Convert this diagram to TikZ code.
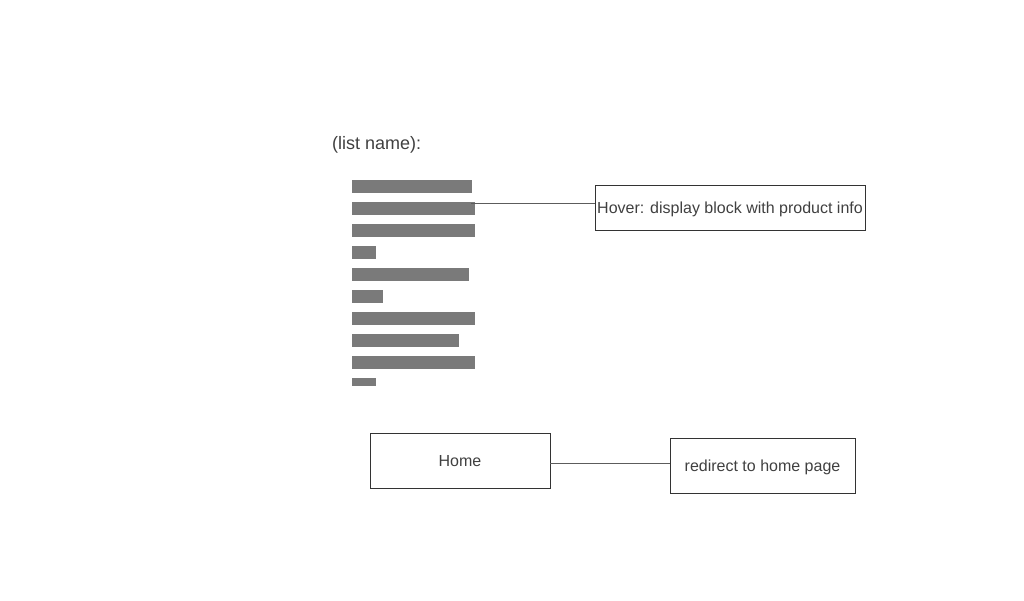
\documentclass[tikz,border=0pt]{standalone}
\usepackage{fontspec}
\setmainfont{Liberation Sans}
\usepackage{tikz}
\usetikzlibrary{positioning}

\definecolor{inkgray}{HTML}{404040}
\definecolor{bargray}{HTML}{7A7A7A}
\definecolor{linegray}{HTML}{333333}

\begin{document}
\begin{tikzpicture}[x=1pt,y=-1pt,auto,
    bar/.style={fill=bargray,inner sep=0pt,outer sep=0pt,minimum height=13pt,anchor=north west},
    infobox/.style={draw=linegray,line width=0.8pt,text=inkgray,inner sep=0pt,text depth=0pt,
        font=\fontsize{16}{19}\selectfont},
    wire/.style={draw=linegray!80,line width=0.8pt}]
			\useasboundingbox (0,0) rectangle (1024,600);
			\node[anchor=west,text=inkgray,inner sep=0pt,font=\fontsize{18}{21}\selectfont] (title) at (332,144.5) {(list name):};
			\node[bar,minimum width=120pt] (b1) at (352,180) {};
			\node[bar,minimum width=123pt] (b2) [below=9pt of b1.south west,anchor=north west] {};
			\node[bar,minimum width=123pt] (b3) [below=9pt of b2.south west,anchor=north west] {};
			\node[bar,minimum width=24pt]  (b4) [below=9pt of b3.south west,anchor=north west] {};
			\node[bar,minimum width=117pt] (b5) [below=9pt of b4.south west,anchor=north west] {};
			\node[bar,minimum width=31pt]  (b6) [below=9pt of b5.south west,anchor=north west] {};
			\node[bar,minimum width=123pt] (b7) [below=9pt of b6.south west,anchor=north west] {};
			\node[bar,minimum width=107pt] (b8) [below=9pt of b7.south west,anchor=north west] {};
			\node[bar,minimum width=123pt] (b9) [below=9pt of b8.south west,anchor=north west] {};
			\node[bar,minimum width=24pt,minimum height=8pt] (b10) [below=9pt of b9.south west,anchor=north west] {};
			\node[infobox,minimum width=270pt,minimum height=45pt] (hover) at (730,207.5) {Hover: display block with product info};
			\node[infobox,minimum width=180pt,minimum height=55pt] (home) at (460,460.5) {Home};
			\node[infobox,minimum width=185pt,minimum height=55pt] (redirect) at (762.5,465.5) {redirect to home page};
			\coordinate (hv) at (471,203.5);
			\path[wire] (hv) -- (hv -| hover.west)
						([yshift=-2.5pt]home.east) -- ([yshift=-2.5pt]home.east -| redirect.west);
	\end{tikzpicture}
\end{document}
